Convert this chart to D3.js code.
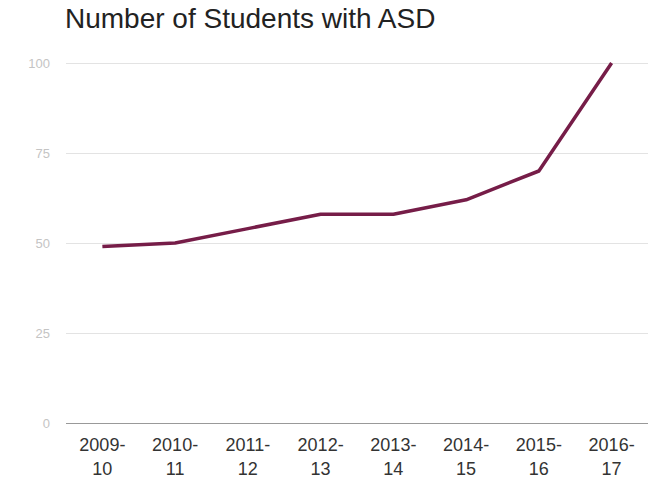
<!DOCTYPE html>
<html>
<head>
<meta charset="utf-8">
<script src="https://cdn.jsdelivr.net/npm/d3@7"></script>
<style>
  body { margin: 0; background: #fff; }
  svg { font-family: "Liberation Sans", Arial, sans-serif; }
</style>
</head>
<body>
<div id="chart"></div>
<script>
// data
var years = ["2009-10", "2010-11", "2011-12", "2012-13", "2013-14", "2014-15", "2015-16", "2016-17"];
var students = [49, 50, 54, 58, 58, 62, 70, 100];
var yTickValues = [0, 25, 50, 75, 100];

var width = 650;
var height = 478;

var svg = d3.select("#chart")
    .append("svg")
    .attr("width", width)
    .attr("height", height);

// scales
var x = d3.scalePoint()
    .domain(years)
    .range([66, 648])
    .padding(0.5);

var y = d3.scaleLinear()
    .domain([0, 100])
    .range([423, 63]);

// title
svg.append("text")
    .attr("x", 65)
    .attr("y", 28)
    .style("font-size", "28px")
    .style("fill", "#222")
    .text("Number of Students with ASD");

// gridlines + y labels
var yAxis = svg.append("g")
    .attr("transform", "translate(66,0)")
    .call(d3.axisLeft(y).tickValues(yTickValues).tickSize(-(648 - 66)).tickPadding(16));

yAxis.select(".domain").remove();
yAxis.selectAll(".tick line")
    .attr("stroke", function(d) { return d === 0 ? "#999" : "#e3e3e3"; });
yAxis.selectAll(".tick text")
    .style("font-size", "13px")
    .style("font-family", "Liberation Sans, Arial, sans-serif")
    .attr("fill", "#c4c4c4");

// x labels in two lines
var xLabels = svg.selectAll(".x-label")
    .data(years)
    .enter()
    .append("text")
    .attr("class", "x-label")
    .attr("text-anchor", "middle")
    .style("font-size", "18px")
    .style("fill", "#333");

xLabels.append("tspan")
    .attr("x", function(d) { return x(d); })
    .attr("y", 451)
    .text(function(d) { return d.split("-")[0] + "-"; });

xLabels.append("tspan")
    .attr("x", function(d) { return x(d); })
    .attr("y", 475)
    .text(function(d) { return d.split("-")[1]; });

// line
var line = d3.line()
    .x(function(d, i) { return x(years[i]); })
    .y(function(d) { return y(d); });

svg.append("path")
    .datum(students)
    .attr("d", line)
    .attr("fill", "none")
    .attr("stroke", "#761d48")
    .attr("stroke-width", 3.5)
    .attr("stroke-linejoin", "round");
</script>
</body>
</html>
